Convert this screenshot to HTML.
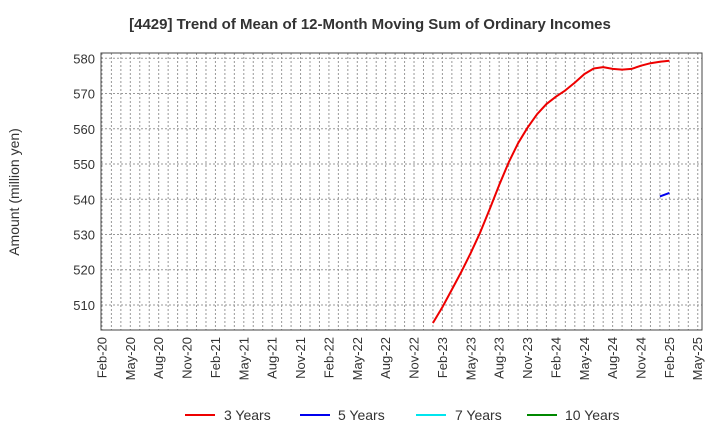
<!DOCTYPE html>
<html><head><meta charset="utf-8"><style>
body{margin:0;background:#fff;}
svg text{font-family:"Liberation Sans",Arial,sans-serif;fill:#333;}
</style></head><body>
<svg id="chart" width="720" height="440" xmlns="http://www.w3.org/2000/svg">
<text x="370" y="29" text-anchor="middle" font-size="15" font-weight="bold">[4429]  Trend of Mean of 12-Month Moving Sum of Ordinary Incomes</text>
<text transform="translate(19,192) rotate(-90)" text-anchor="middle" font-size="14">Amount (million yen)</text>
<g id="grid"></g><g id="series"></g><g id="axes"></g>
<g>
<g><line x1="185" y1="415" x2="215" y2="415" stroke="#ee0000" stroke-width="2"/><text x="224" y="420" font-size="14">3 Years</text></g>
<g><line x1="300" y1="415" x2="330" y2="415" stroke="#0000ee" stroke-width="2"/><text x="338" y="420" font-size="14">5 Years</text></g>
<g><line x1="416" y1="415" x2="446" y2="415" stroke="#00e5ee" stroke-width="2"/><text x="455" y="420" font-size="14">7 Years</text></g>
<g><line x1="527" y1="415" x2="557" y2="415" stroke="#008800" stroke-width="2"/><text x="565" y="420" font-size="14">10 Years</text></g>
</g>
</svg>
<script>
const yTicks=[510,520,530,540,550,560,570,580];
const xTickLabels=["Feb-20","May-20","Aug-20","Nov-20","Feb-21","May-21","Aug-21","Nov-21","Feb-22","May-22","Aug-22","Nov-22","Feb-23","May-23","Aug-23","Nov-23","Feb-24","May-24","Aug-24","Nov-24","Feb-25","May-25"];
const series3Start=35; // Jan-23, months from Feb-20
const series3=[504.9,509.4,514.4,519.4,524.8,530.6,537.2,544,550.4,555.9,560.3,564.1,567,569.1,570.9,573.1,575.5,577.1,577.5,577.0,576.8,577.0,577.9,578.6,579.0,579.3];
const series5Start=59; // Jan-25
const series5=[540.8,541.8];
const L=101,R=702,T=53,B=330;
const XMIN=-0.1,XMAX=63.45,YMIN=502.9,YMAX=581.5;
const NS="http://www.w3.org/2000/svg";
function x(i){return L+(i-XMIN)/(XMAX-XMIN)*(R-L);}
function y(v){return B-(v-YMIN)/(YMAX-YMIN)*(B-T);}
function mk(tag,attrs,parent){const e=document.createElementNS(NS,tag);for(const k in attrs)e.setAttribute(k,attrs[k]);parent.appendChild(e);return e;}
const grid=document.getElementById('grid'),axes=document.getElementById('axes'),ser=document.getElementById('series');
for(let i=0;i<=63;i++){
 const l=mk('line',{x1:x(i),x2:x(i),y1:T,y2:B,stroke:'#999','stroke-width':1,'stroke-dasharray':'2,2'},grid);
 
 
}
yTicks.forEach(v=>{
 const l=mk('line',{x1:L,x2:R,y1:y(v),y2:y(v),stroke:'#999','stroke-width':1,'stroke-dasharray':'2,2'},grid);
 
 
 const t=mk('text',{x:L-6,y:y(v)+5,'text-anchor':'end','font-size':13},axes);
 t.textContent=v;
 
 
});
xTickLabels.forEach((s,k)=>{
 const px=x(k*3);
 const t=mk('text',{transform:`translate(${px+4.5},337) rotate(-90)`,'text-anchor':'end','font-size':13},axes);
 t.textContent=s;
 
 
});
const frame=mk('rect',{x:L,y:T,width:R-L,height:B-T,fill:'none',stroke:'#444','stroke-width':1},axes);


function line(start,vals,color,name){
 const p=vals.map((v,k)=>x(start+k).toFixed(1)+','+y(v).toFixed(1)).join(' ');
 const e=mk('polyline',{points:p,fill:'none',stroke:color,'stroke-width':2,'stroke-linejoin':'round'},ser);
 
 
}
line(series3Start,series3,'#ee0000','series-3-years');
line(series5Start,series5,'#0000ee','series-5-years');
</script>
</body></html>
